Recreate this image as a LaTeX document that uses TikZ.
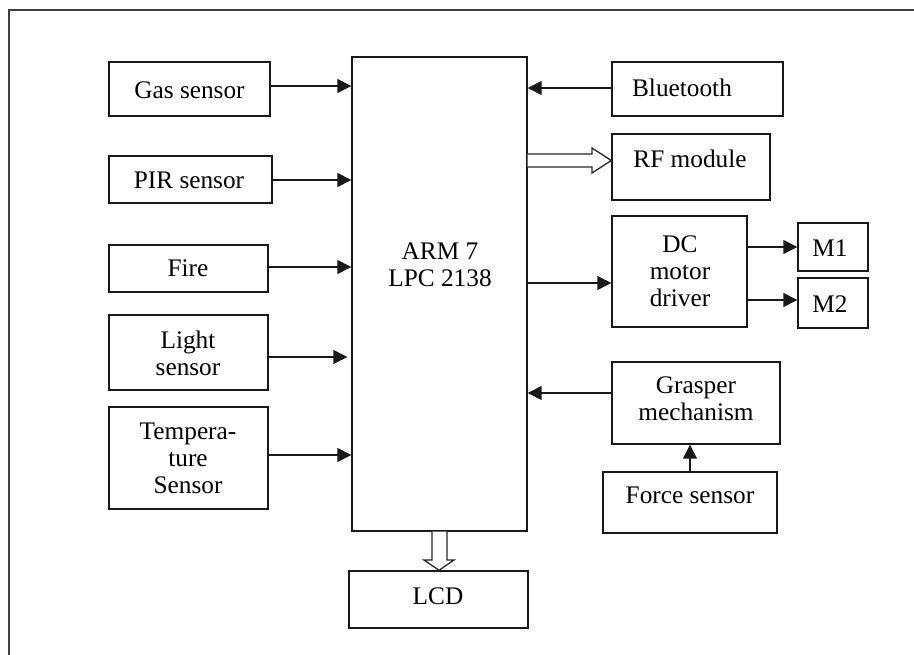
\documentclass[tikz,border=0pt]{standalone}
\usepackage{fontspec}
\setmainfont{Liberation Serif}
\usetikzlibrary{arrows.meta,calc}
\begin{document}
\begin{tikzpicture}[x=1pt,y=-1pt,
  box/.style={draw=black!90, line width=1.4pt, rectangle, inner sep=0pt},
  txt/.style={font=\fontsize{25.3}{27}\selectfont, align=center, inner sep=0pt},
  arr/.style={line width=1.5pt, draw=black!90, -{Triangle[length=14pt,width=14pt]}},
  hol/.style={line width=1.3pt, draw=black!85, fill=white, line join=miter}]
\useasboundingbox (0,0) rectangle (914,655);
\begin{scope}
\clip (0,0) rectangle (914,655);
\draw[line width=1.5pt, black!75] (9,700) -- (9,10) -- (950,10);
\end{scope}
% left column
\node[box, minimum width=161pt, minimum height=54pt] (gas) at (189.5,89) {};
\node[txt] at (189.5,90) {Gas sensor};
\node[box, minimum width=163pt, minimum height=47pt] (pir) at (190.5,179.5) {};
\node[txt] at (189,180) {PIR sensor};
\node[box, minimum width=159pt, minimum height=47pt] (fire) at (188.5,268.5) {};
\node[txt] at (188,268) {Fire};
\node[box, minimum width=159pt, minimum height=75pt] (light) at (188.5,352.5) {};
\node[txt] at (188,353) {Light\\sensor};
\node[box, minimum width=159pt, minimum height=102pt] (temp) at (188.5,458) {};
\node[txt] at (188,458) {Tempera-\\ture\\Sensor};
% main
\node[box, minimum width=175pt, minimum height=474pt] (arm) at (439.5,294) {};
\node[txt] at (440,265) {ARM 7\\LPC 2138};
\node[box, minimum width=179pt, minimum height=57pt] (lcd) at (438.5,599.5) {};
\node[txt] at (438,596) {LCD};
% right column
\node[box, minimum width=171pt, minimum height=54pt] (bt) at (697.5,89) {};
\node[txt] at (682,88) {Bluetooth};
\node[box, minimum width=158pt, minimum height=66pt] (rf) at (691,167) {};
\node[txt] at (690,159) {RF module};
\node[box, minimum width=135pt, minimum height=111pt] (dc) at (679.5,271.5) {};
\node[txt] at (680,271) {DC\\motor\\driver};
\node[box, minimum width=70pt, minimum height=48pt] (m1) at (833,247) {};
\node[txt] at (830,248) {M1};
\node[box, minimum width=70pt, minimum height=50pt] (m2) at (833,303) {};
\node[txt] at (830,304) {M2};
\node[box, minimum width=168pt, minimum height=82pt] (gr) at (696,403) {};
\node[txt] at (696,399) {Grasper\\mechanism};
\node[box, minimum width=174pt, minimum height=61pt] (force) at (690,502.5) {};
\node[txt] at (690,495) {Force sensor};
% arrows
\draw[arr] (gas.east |- 0,86) -- (arm.west |- 0,86);
\draw[arr] (pir.east |- 0,180) -- (arm.west |- 0,180);
\draw[arr] (fire.east |- 0,267) -- (arm.west |- 0,267);
\draw[arr] (light.east |- 0,357) -- ($(arm.west |- 0,357)+(-4,0)$);
\draw[arr] (temp.east |- 0,455) -- (arm.west |- 0,455);
\draw[arr] (bt.west |- 0,88) -- (arm.east |- 0,88);
\draw[arr] (arm.east |- 0,283) -- (dc.west |- 0,283);
\draw[arr] (dc.east |- 0,247) -- (m1.west |- 0,247);
\draw[arr] (dc.east |- 0,300) -- (m2.west |- 0,300);
\draw[arr] (gr.west |- 0,393) -- (arm.east |- 0,393);
\draw[arr] (force.north -| 690,0) -- (gr.south -| 690,0);
% hollow arrows
\draw[hol] (arm.east |- 0,154) -- (592,154) -- (592,148) -- (rf.west |- 0,160.5)
  -- (592,173) -- (592,167) -- (arm.east |- 0,167);
\draw[hol] (arm.south -| 432,0) -- (432,560) -- (424,560) -- (lcd.north -| 439,0)
  -- (454,560) -- (447,560) -- (arm.south -| 447,0);
\end{tikzpicture}
\end{document}
